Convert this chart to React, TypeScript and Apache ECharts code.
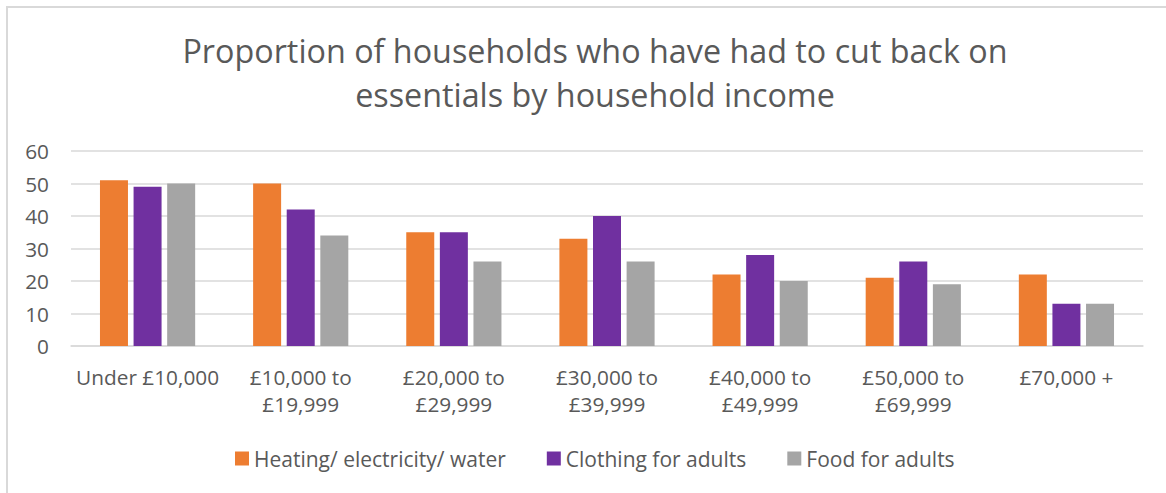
import React, { useEffect, useRef } from "react";
import * as echarts from "echarts";

const categories = [
  "Under £10,000",
  "£10,000 to\n£19,999",
  "£20,000 to\n£29,999",
  "£30,000 to\n£39,999",
  "£40,000 to\n£49,999",
  "£50,000 to\n£69,999",
  "£70,000 +",
];
const heating = [51, 50, 35, 33, 22, 21, 22];
const clothing = [49, 42, 35, 40, 28, 26, 13];
const food = [50, 34, 26, 26, 20, 19, 13];

const FONT = "'Open Sans', 'Noto Sans', sans-serif";
const TXT = "#595959";
const BORDER = "#d9d9d9";

export default function App() {
  const ref = useRef<HTMLDivElement>(null);
  useEffect(() => {
    if (!ref.current) return;
    const chart = echarts.init(ref.current, undefined, { renderer: "svg" });
    const barCommon = { type: "bar", barWidth: 28, barGap: "20%" };
    chart.setOption({
      animation: false,
      textStyle: { fontFamily: FONT },
      title: {
        text: "Proportion of households who have had to cut back on\nessentials by household income",
        left: 590,
        textAlign: "center",
        top: 23,
        textStyle: { fontFamily: FONT, fontSize: 32.3, fontWeight: "normal", color: TXT, lineHeight: 44 },
      },
      legend: {
        top: 443,
        left: 230,
        itemWidth: 14,
        itemHeight: 14,
        itemGap: 41,
        icon: "rect",
        textStyle: { fontFamily: FONT, fontSize: 21, color: TXT },
        data: ["Heating/ electricity/ water", "Clothing for adults", "Food for adults"],
      },
      grid: { left: 71, right: 23, top: 151, bottom: 147 },
      xAxis: {
        type: "category",
        data: categories,
        axisTick: { show: false },
        axisLine: { lineStyle: { color: BORDER, width: 1.5 } },
        axisLabel: {
          interval: 0,
          fontFamily: FONT,
          fontSize: 20.8,
          color: TXT,
          lineHeight: 27,
          margin: 17,
        },
      },
      yAxis: {
        type: "value",
        min: 0,
        max: 60,
        interval: 10,
        axisLine: { show: false },
        axisTick: { show: false },
        splitLine: { lineStyle: { color: BORDER, width: 1.5 } },
        axisLabel: { fontFamily: FONT, fontSize: 20.8, color: TXT, margin: 22 },
      },
      series: [
        { ...barCommon, name: "Heating/ electricity/ water", data: heating, itemStyle: { color: "#ED7D31" } },
        { ...barCommon, name: "Clothing for adults", data: clothing, itemStyle: { color: "#7030A0" } },
        { ...barCommon, name: "Food for adults", data: food, itemStyle: { color: "#A5A5A5" } },
      ],
    });
    return () => chart.dispose();
  }, []);
  return (
    <div style={{ position: "fixed", left: 0, top: 0, width: 1166, height: 493, overflow: "hidden", background: "#fff" }}>
      <div ref={ref} style={{ position: "absolute", left: 0, top: 0, width: 1166, height: 493 }} />
      <div
        style={{
          position: "absolute",
          left: 6,
          top: 6,
          width: 1200,
          height: 600,
          borderLeft: "2px solid " + BORDER,
          borderTop: "2px solid " + BORDER,
          boxSizing: "border-box",
          pointerEvents: "none",
          zIndex: 5,
        }}
      />
    </div>
  );
}
